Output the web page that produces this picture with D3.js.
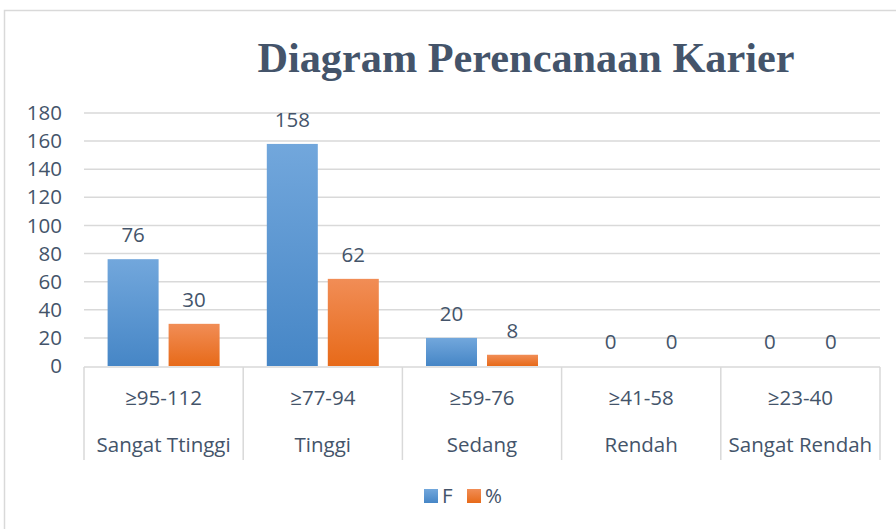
<!DOCTYPE html>
<html>
<head>
<meta charset="utf-8">
<script src="https://cdn.jsdelivr.net/npm/d3@7"></script>
<style>
  html, body { margin: 0; padding: 0; background: #fff; }
  svg { display: block; }
</style>
</head>
<body>
<div id="chart"></div>
<script>
// ---- Data -------------------------------------------------------
const RANGES = ['≥95-112', '≥77-94', '≥59-76', '≥41-58', '≥23-40'];
const LEVELS = ['Sangat Ttinggi', 'Tinggi', 'Sedang', 'Rendah', 'Sangat Rendah'];
const SERIES = ['F', '%'];
const F_VALUES = [76, 158, 20, 0, 0];
const PCT_VALUES = [30, 62, 8, 0, 0];
const Y_TICKS = [0, 20, 40, 60, 80, 100, 120, 140, 160, 180];

const W = 896, H = 529;
const TEXT = '#44546A';
const GRID = '#D9D9D9';
const FONT = '"Open Sans", "Noto Sans", sans-serif';
const FS = 20.5;

const rows = RANGES.map((r, i) => ({ range: r, level: LEVELS[i], values: [F_VALUES[i], PCT_VALUES[i]] }));

const svg = d3.select('#chart').append('svg')
  .attr('width', W).attr('height', H);

// chart frame
svg.append('rect')
  .attr('x', 4.5).attr('y', 10.5)
  .attr('width', W).attr('height', H)
  .attr('fill', '#fff').attr('stroke', GRID).attr('stroke-width', 1.5);

// gradients
const defs = svg.append('defs');
const grads = [
  { id: 'gF', top: '#72A7DC', bottom: '#4686C6' },
  { id: 'gP', top: '#F18D56', bottom: '#E76A19' },
];
grads.forEach(g => {
  const lg = defs.append('linearGradient').attr('id', g.id)
    .attr('x1', 0).attr('y1', 0).attr('x2', 0).attr('y2', 1);
  lg.append('stop').attr('offset', '0%').attr('stop-color', g.top);
  lg.append('stop').attr('offset', '100%').attr('stop-color', g.bottom);
});

// title
svg.append('text')
  .attr('x', 526).attr('y', 72)
  .attr('text-anchor', 'middle')
  .attr('font-family', '"Liberation Serif", "Times New Roman", serif')
  .attr('font-weight', 'bold')
  .attr('font-size', 42.3)
  .attr('fill', TEXT)
  .text('Diagram Perencanaan Karier');

// scales
const x0 = d3.scaleBand().domain(RANGES).range([84, 880]);
const x1 = d3.scaleBand().domain(SERIES).range([0, x0.bandwidth()])
  .paddingInner(10 / 61).paddingOuter(0.387);
const y = d3.scaleLinear().domain([0, 180]).range([366, 113]);

// gridlines
svg.append('g')
  .selectAll('line')
  .data(Y_TICKS.filter(t => t > 0))
  .join('line')
  .attr('x1', 84).attr('x2', 880)
  .attr('y1', d => y(d)).attr('y2', d => y(d))
  .attr('stroke', GRID).attr('stroke-width', 1.5);

// y axis labels
const yAxis = svg.append('g')
  .attr('transform', 'translate(84,0)')
  .call(d3.axisLeft(y).tickValues(Y_TICKS).tickSize(0).tickPadding(22));
yAxis.select('.domain').remove();
yAxis.selectAll('text')
  .attr('font-family', FONT).attr('font-size', FS).attr('fill', TEXT);

// category axis (two-level boxes)
const cat = svg.append('g');
cat.append('line')
  .attr('x1', 84).attr('x2', 880).attr('y1', 367).attr('y2', 367)
  .attr('stroke', GRID).attr('stroke-width', 1.5);
cat.selectAll('line.div')
  .data(RANGES.concat(['end']))
  .join('line')
  .attr('class', 'div')
  .attr('x1', (d, i) => 84 + i * x0.step())
  .attr('x2', (d, i) => 84 + i * x0.step())
  .attr('y1', 367).attr('y2', 460)
  .attr('stroke', GRID).attr('stroke-width', 1.5);
cat.selectAll('text.r')
  .data(rows)
  .join('text')
  .attr('class', 'r')
  .attr('x', d => x0(d.range) + x0.bandwidth() / 2)
  .attr('y', 398).attr('dy', '0.35em')
  .attr('text-anchor', 'middle')
  .attr('font-family', FONT).attr('font-size', FS).attr('fill', TEXT)
  .text(d => d.range);
cat.selectAll('text.l')
  .data(rows)
  .join('text')
  .attr('class', 'l')
  .attr('x', d => x0(d.range) + x0.bandwidth() / 2)
  .attr('y', 445).attr('dy', '0.35em')
  .attr('text-anchor', 'middle')
  .attr('font-family', FONT).attr('font-size', FS).attr('fill', TEXT)
  .text(d => d.level);

// bars
const groups = svg.append('g')
  .selectAll('g')
  .data(rows)
  .join('g')
  .attr('transform', d => `translate(${x0(d.range)},0)`);

const cells = d => SERIES.map((s, i) => ({ series: s, value: d.values[i], idx: i }));

groups.selectAll('rect')
  .data(cells)
  .join('rect')
  .attr('x', d => x1(d.series))
  .attr('y', d => y(d.value))
  .attr('width', x1.bandwidth())
  .attr('height', d => y(0) - y(d.value))
  .attr('fill', d => `url(#${grads[d.idx].id})`);

groups.selectAll('text')
  .data(cells)
  .join('text')
  .attr('x', d => x1(d.series) + x1.bandwidth() / 2)
  .attr('y', d => y(d.value) - 24).attr('dy', '0.35em')
  .attr('text-anchor', 'middle')
  .attr('font-family', FONT).attr('font-size', FS).attr('fill', TEXT)
  .text(d => d.value);

// legend
const legend = svg.append('g');
const LEG = [{ x: 424, tx: 442 }, { x: 467, tx: 485 }];
SERIES.forEach((s, i) => {
  legend.append('rect')
    .attr('x', LEG[i].x).attr('y', 489)
    .attr('width', 14).attr('height', 14)
    .attr('fill', `url(#${grads[i].id})`);
  legend.append('text')
    .attr('x', LEG[i].tx).attr('y', 496).attr('dy', '0.35em')
    .attr('font-family', FONT).attr('font-size', FS).attr('fill', TEXT)
    .text(s);
});
</script>
</body>
</html>
